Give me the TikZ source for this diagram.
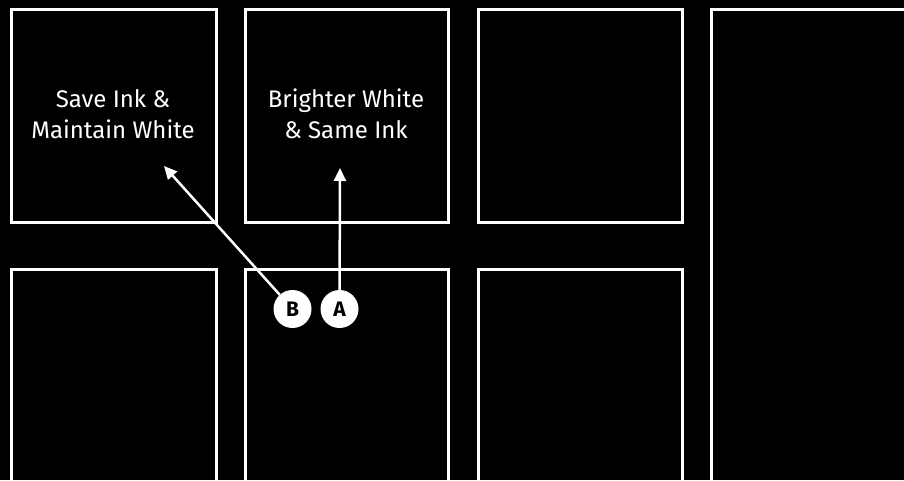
\documentclass[tikz,border=0pt]{standalone}
\usepackage{fontspec}
\setmainfont{Fira Sans}
\usetikzlibrary{arrows.meta}
\begin{document}
\begin{tikzpicture}[x=1pt,y=-1pt,
  panel/.style={draw=white,line width=3pt},
  lbl/.style={text=white,font=\fontsize{24}{31}\selectfont,align=center},
  badge/.style={circle,fill=white,minimum size=38pt,inner sep=0pt,font=\fontsize{21}{21}\selectfont\bfseries,text=black},
  pointer/.style={draw=white,line width=2.5pt,-{Triangle[length=13pt,width=12pt]}}]
\fill[black] (0,0) rectangle (904,480);
\useasboundingbox (0,0) rectangle (904,480);
% top row
\draw[panel] (11,9) rectangle (216,222);
\draw[panel] (245,9) rectangle (448,222);
\draw[panel] (478,9) rectangle (682,222);
\draw[panel] (711,9) rectangle (920,500);
% bottom row
\draw[panel] (11,269) rectangle (216,500);
\draw[panel] (245,269) rectangle (448,500);
\draw[panel] (478,269) rectangle (682,500);
% labels
\node[lbl] (t1) at (113,114) {Save Ink \&\\Maintain White};
\node[lbl] (t2) at (346,114) {Brighter White\\\& Same Ink};
% targets
\coordinate (ta) at (340,168);
\coordinate (tb) at (164,166);
% badges
\node[badge] (b) at (292.5,309) {B};
\node[badge] (a) at (339.5,309) {A};
\draw[pointer] (a) -- (ta);
\draw[pointer] (b) -- (tb);
\end{tikzpicture}
\end{document}
